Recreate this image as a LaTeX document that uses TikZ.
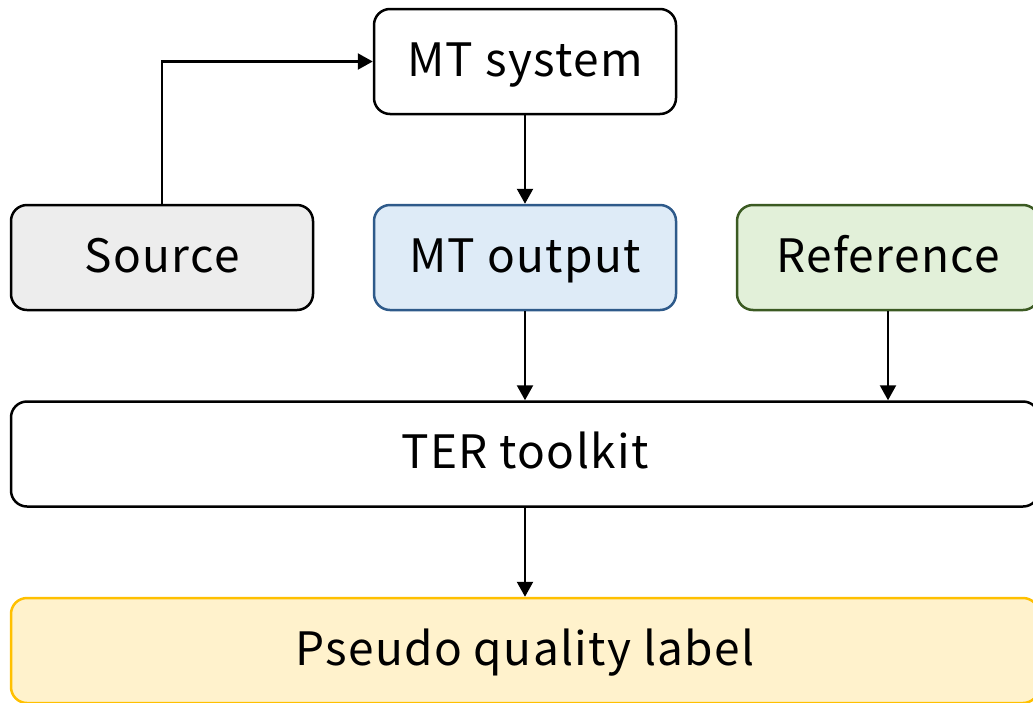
\documentclass[tikz,border=0pt]{standalone}
\usepackage{fontspec}
\setmainfont{Noto Sans CJK JP}[LetterSpace=3]
\usetikzlibrary{arrows.meta}
\definecolor{grayfill}{HTML}{EDEDED}
\definecolor{bluefill}{HTML}{DEEBF7}
\definecolor{blueline}{HTML}{2E5A8A}
\definecolor{greenfill}{HTML}{E2F0D9}
\definecolor{greenline}{HTML}{3B5A22}
\definecolor{yellowfill}{HTML}{FFF2CC}
\definecolor{yellowline}{HTML}{FFC000}
\tikzset{
  box/.style={draw=black, line width=2.5pt, rounded corners=16pt, fill=white,
    minimum width=302pt, minimum height=105pt, inner sep=0pt,
    text height=34pt, text depth=5pt,
    font=\fontsize{46}{52}\selectfont, text=black},
  widebox/.style={box, minimum width=1028pt},
  arr/.style={-{Triangle[length=15pt,width=16pt]}, line width=2.3pt},
}
\begin{document}
\begin{tikzpicture}[x=1pt,y=-1pt]
\useasboundingbox (0,0) rectangle (1033,702);
\node[box] (mts) at (525,61.5) {MT system};
\node[box, fill=grayfill] (src) at (162,257.5) {Source};
\node[box, fill=bluefill, draw=blueline] (mto) at (525,257.5) {MT output};
\node[box, fill=greenfill, draw=greenline] (ref) at (888,257.5) {Reference};
\node[widebox] (ter) at (525,454) {TER toolkit};
\node[widebox, fill=yellowfill, draw=yellowline] (pql) at (525,650.5) {Pseudo quality label};
\draw[arr] (src.north) |- (mts.west);
\draw[arr] (mts.south) -- (mto.north);
\draw[arr] (mto.south) -- (ter.north);
\draw[arr] (ref.south) -- (ref.south |- ter.north);
\draw[arr] (ter.south) -- (pql.north);
\end{tikzpicture}
\end{document}
